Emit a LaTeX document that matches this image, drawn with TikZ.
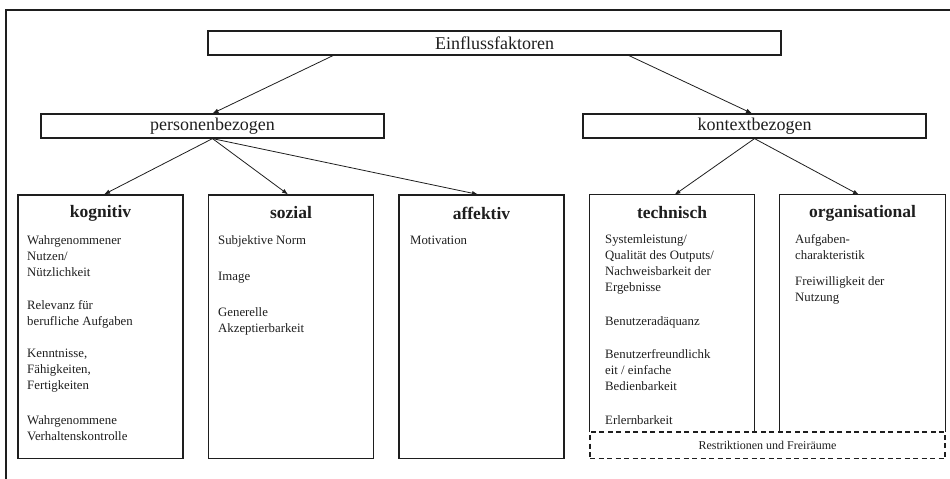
\documentclass[tikz,border=0pt]{standalone}
\usepackage{fontspec}
\setmainfont{Liberation Serif}
\usetikzlibrary{arrows.meta}
\definecolor{ink}{HTML}{1E1E1E}
\begin{document}
\begin{tikzpicture}[x=1pt,y=-1pt,
  every node/.style={text=ink},
  frameline/.style={draw=ink, line width=1.2pt},
  box/.style={draw=ink, line width=1.2pt, inner sep=0pt, minimum height=24pt,
    font=\fontsize{18}{20}\selectfont},
  col/.style={minimum width=165pt, inner sep=0pt},
  colbox/.style={col, draw=ink, line width=1.2pt, minimum height=263.5pt},
  opencol/.style={col, minimum height=237pt},
  head/.style={inner sep=0pt, font=\bfseries\fontsize{17.5}{20}\selectfont},
  item/.style={anchor=north west, align=left, inner sep=0pt,
    font=\fontsize{12.8}{16}\selectfont},
  link/.style={draw=ink, line width=0.8pt, -{Latex[length=6pt,width=4.5pt]}},
]
\useasboundingbox (0,0) rectangle (950,479);

% outer frame (left and top edges)
\coordinate (fa) at (6,479);
\coordinate (fb) at (6,10);
\coordinate (fc) at (950,10);
\draw[frameline] (fa) -- (fb) -- (fc);

% upper levels
\node[box, minimum width=573pt] (ein) at (494.5,43) {Einflussfaktoren};
\node[box, minimum width=343pt] (pers) at (212.5,126) {personenbezogen};
\node[box, minimum width=343pt] (kont) at (754.5,126) {kontextbezogen};

% factor columns
\node[colbox] (kog) at (100.5,326.75) {};
\node[colbox] (soz) at (291,326.75) {};
\node[colbox] (aff) at (481.5,326.75) {};
\node[opencol] (tech) at (672,313.5) {};
\node[opencol] (org) at (862.5,313.5) {};
\draw[frameline] (tech.south west) -- (tech.north west) -- (tech.north east) -- (tech.south east);
\draw[frameline] (org.south west) -- (org.north west) -- (org.north east) -- (org.south east);
\node[draw=ink, line width=1.2pt, dash pattern=on 5pt off 3.5pt, fill=white,
  minimum width=355pt, minimum height=26.5pt, inner sep=0pt,
  font=\fontsize{12}{14}\selectfont] (rest) at (767.5,445.25) {Restriktionen und Freiräume};

% column headings
\node[head] (hkog) at (100.5,213) {kognitiv};
\node[head] (hsoz) at (291,213) {sozial};
\node[head] (haff) at (481.5,213) {affektiv};
\node[head] (htech) at (672,213) {technisch};
\node[head] (horg) at (862.5,213) {organisational};

% kognitiv
\node[item] (k1) at (27,232.8) {\strut Wahrgenommener\\Nutzen/\\Nützlichkeit};
\node[item] (k2) at (27,297.8) {\strut Relevanz für\\berufliche Aufgaben};
\node[item] (k3) at (27,345.8) {\strut Kenntnisse,\\Fähigkeiten,\\Fertigkeiten};
\node[item] (k4) at (27,412.8) {\strut Wahrgenommene\\Verhaltenskontrolle};

% sozial
\node[item] (s1) at (218,232.8) {\strut Subjektive Norm};
\node[item] (s2) at (218,268.8) {\strut Image};
\node[item] (s3) at (218,304.8) {\strut Generelle\\Akzeptierbarkeit};

% affektiv
\node[item] (a1) at (410,232.8) {\strut Motivation};

% technisch
\node[item] (t1) at (605,231.8) {\strut Systemleistung/\\Qualität des Outputs/\\Nachweisbarkeit der\\Ergebnisse};
\node[item] (t2) at (605,313.8) {\strut Benutzeradäquanz};
\node[item] (t3) at (605,346.8) {\strut Benutzerfreundlichk\\eit / einfache\\Bedienbarkeit};
\node[item] (t4) at (605,412.8) {\strut Erlernbarkeit};

% organisational
\node[item] (o1) at (795,231.8) {\strut Aufgaben-\\charakteristik};
\node[item] (o2) at (795,273.8) {\strut Freiwilligkeit der\\Nutzung};

% connectors
\draw[link] ([xshift=-161.5pt]ein.south) -- (pers.north);
\draw[link] ([xshift=134.5pt]ein.south) -- ([xshift=-2.5pt]kont.north);
\draw[link] (pers.south) -- ([xshift=3.5pt]kog.north);
\draw[link] (pers.south) -- ([xshift=-3pt]soz.north);
\draw[link] (pers.south) -- ([xshift=-3.5pt]aff.north);
\draw[link] (kont.south) -- ([xshift=2.5pt]tech.north);
\draw[link] (kont.south) -- ([xshift=-3.5pt]org.north);
\end{tikzpicture}
\end{document}
